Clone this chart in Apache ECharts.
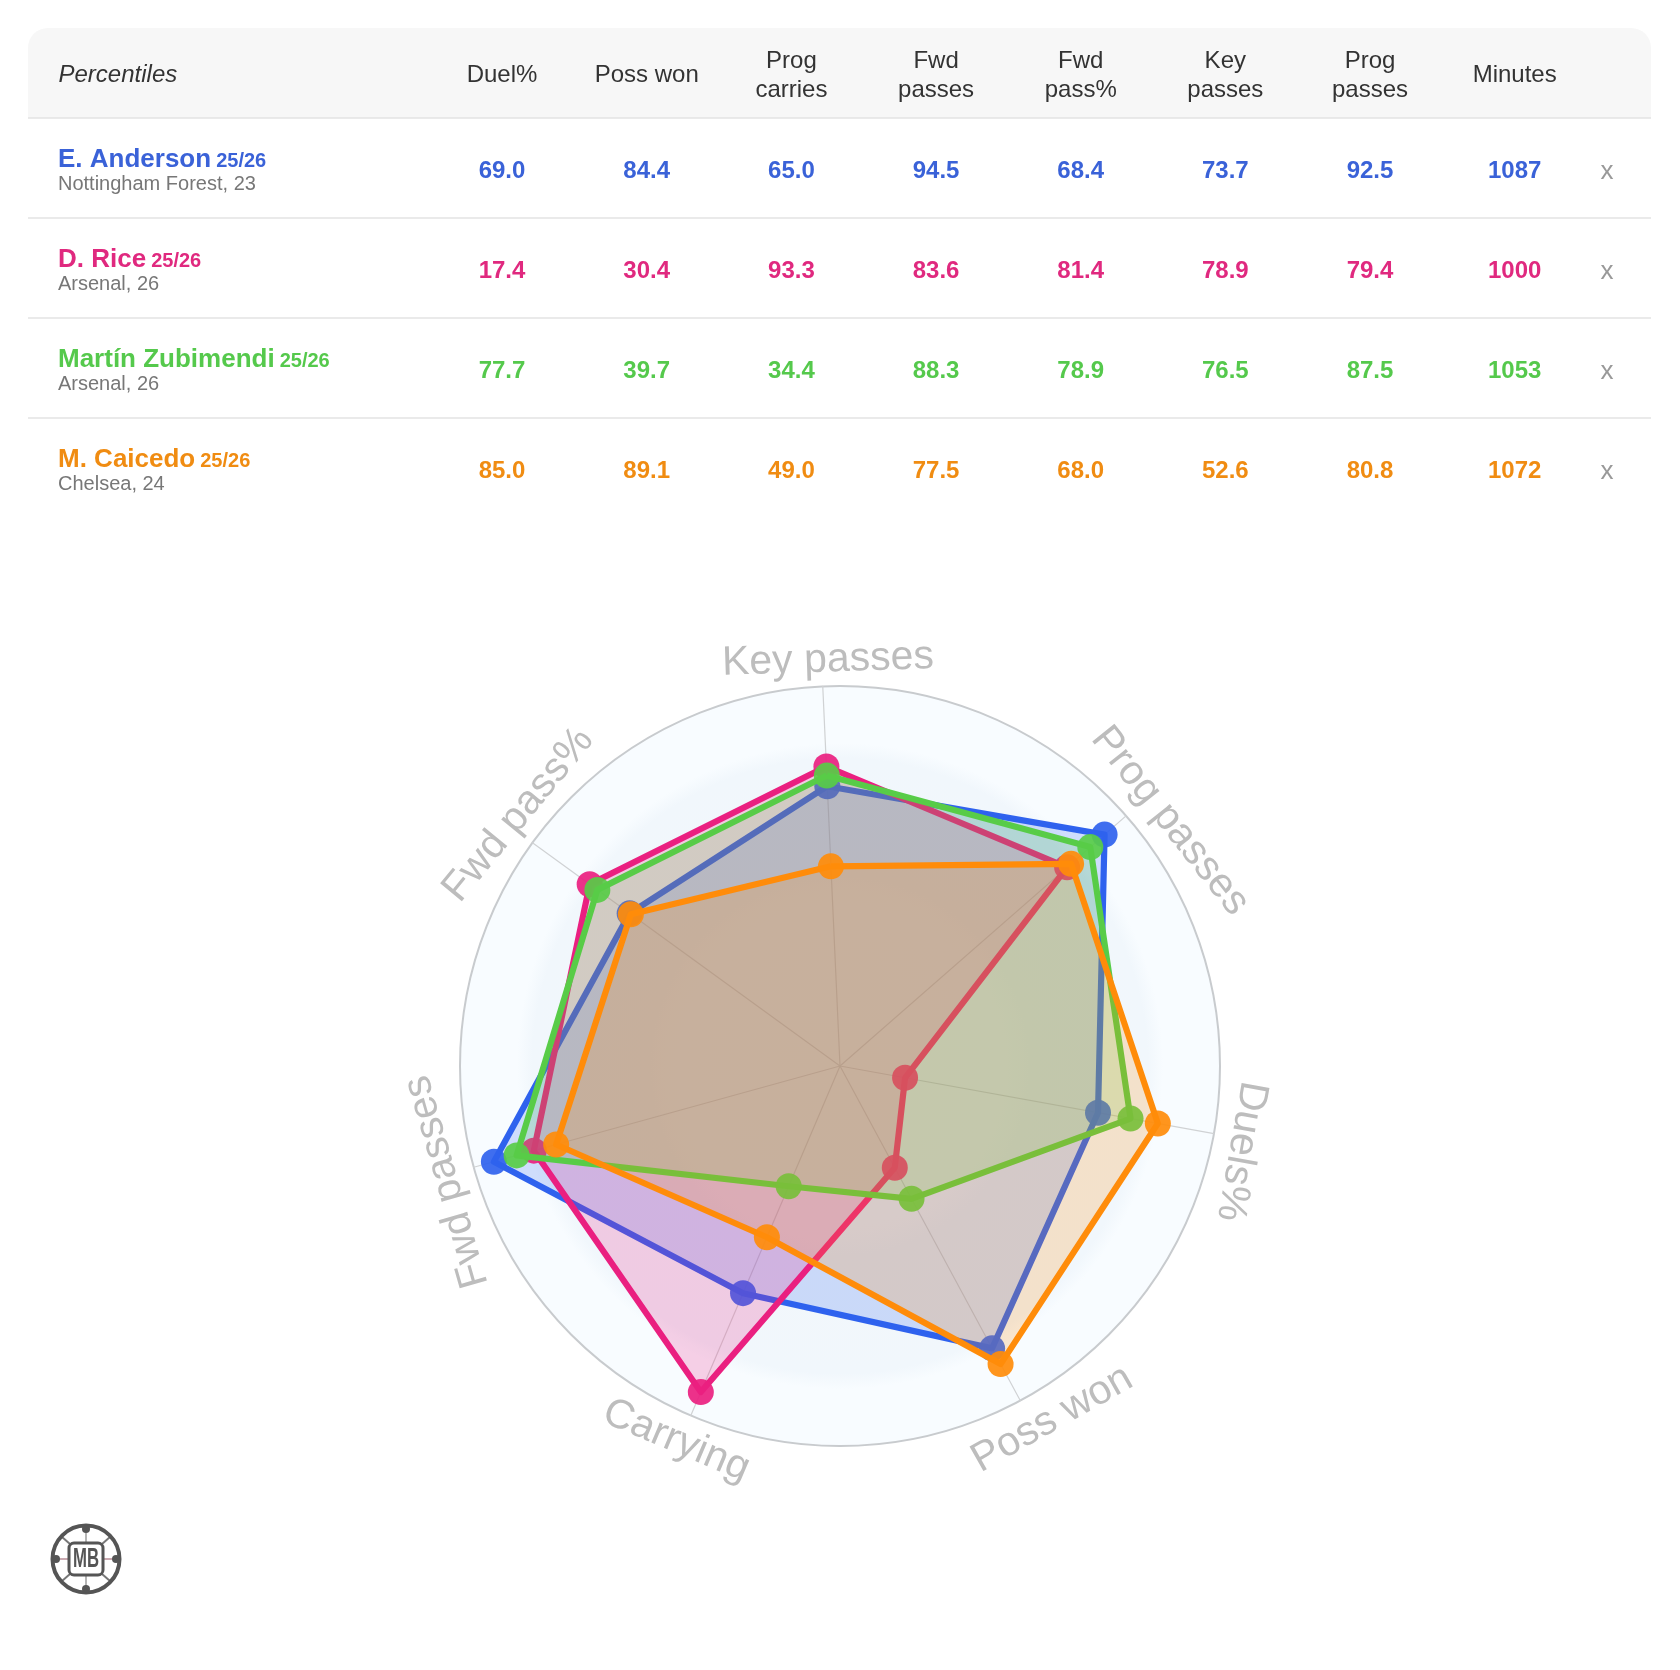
<!DOCTYPE html>
<html><head><meta charset="utf-8">
<style>html,body{margin:0;padding:0;background:#fff}#c{width:1680px;height:1670px}</style>
<script src="https://cdn.jsdelivr.net/npm/echarts@6/dist/echarts.min.js"></script>
</head><body><div id="c"></div>
<script>
const columnHeaders = [['Duel%'],['Poss won'],['Prog','carries'],['Fwd','passes'],['Fwd','pass%'],['Key','passes'],['Prog','passes'],['Minutes']];
const playerNames = ['E. Anderson','D. Rice','Martín Zubimendi','M. Caicedo'];
const playerSeasons = ['25/26','25/26','25/26','25/26'];
const playerTeams = ['Nottingham Forest, 23','Arsenal, 26','Arsenal, 26','Chelsea, 24'];
const playerColors = ['#2f62ee','#ea2080','#58cc48','#ff8c0a'];
const textColors = ['#3a62d8','#e0297f','#55c94c','#f08c12'];
// Duel%, Poss won, Prog carries, Fwd passes, Fwd pass%, Key passes, Prog passes, Minutes
const andersonRow = ['69.0','84.4','65.0','94.5','68.4','73.7','92.5','1087'];
const riceRow = ['17.4','30.4','93.3','83.6','81.4','78.9','79.4','1000'];
const zubimendiRow = ['77.7','39.7','34.4','88.3','78.9','76.5','87.5','1053'];
const caicedoRow = ['85.0','89.1','49.0','77.5','68.0','52.6','80.8','1072'];
const tableRows = [andersonRow,riceRow,zubimendiRow,caicedoRow];
// radar spokes, anticlockwise from the top
const radarNames = ['Key passes','Fwd pass%','Fwd passes','Carrying','Poss won','Duels%','Prog passes'];
const radarColumnIndex = [5,4,3,2,1,0,6];

const FONT = '"Liberation Sans", Arial, sans-serif';
const CX = 840, CY = 1066, R = 380, START = 92.6;
const colX = [502,646.7,791.4,936.1,1080.7,1225.3,1370,1514.7];
const g = [];
function T(text,x,y,size,fill,o){ o=o||{};
  g.push({type:'text',x,y,rotation:o.rotation||0,scaleX:o.scaleX||1,z:o.z||5,silent:true,
    style:{text,fill,font:(o.style||'')+' '+(o.weight||'')+' '+size+'px '+FONT,textAlign:o.align||'center',textVerticalAlign:'middle',verticalAlign:'middle'}});
}
function widthOf(text,font){const c=document.createElement('canvas').getContext('2d');c.font=font;return c.measureText(text).width;}

// table
g.push({type:'rect',z:1,silent:true,shape:{x:28,y:28,width:1623,height:90,r:[20,20,0,0]},style:{fill:'#f7f7f7'}});
[118,218,318,418].forEach(y=>g.push({type:'line',z:2,silent:true,shape:{x1:28,y1:y,x2:1651,y2:y},style:{stroke:'#e3e3e3',lineWidth:1.6}}));
T('Percentiles',58.5,75,24,'#333',{style:'italic',align:'left'});
columnHeaders.forEach((h,i)=>{
  if(h.length===1) T(h[0],colX[i],75,24,'#333');
  else {T(h[0],colX[i],61,24,'#333');T(h[1],colX[i],90,24,'#333');}
});
playerNames.forEach((n,i)=>{
  const dy=i*100, col=textColors[i];
  T(n,58,160+dy,26,col,{weight:'bold',align:'left'});
  const w=widthOf(n,'bold 26px '+FONT);
  T(playerSeasons[i],58+w+5,161+dy,20,col,{weight:'bold',align:'left'});
  T(playerTeams[i],58,184.5+dy,20,'#777',{align:'left'});
  tableRows[i].forEach((v,j)=>T(v,colX[j],171+dy,24,col,{weight:'bold'}));
  T('x',1607,172+dy,26,'#999');
});

// radar disc
g.push({type:'circle',z:-1,silent:true,shape:{cx:CX,cy:CY,r:R},style:{fill:{type:'radial',x:0.5,y:0.5,r:0.5,colorStops:[
  {offset:0,color:'#f7f9fb'},{offset:0.42,color:'#f6f9fc'},{offset:0.5,color:'#f2f7fb'},{offset:0.81,color:'#f1f7fc'},{offset:0.85,color:'#f8fcff'},{offset:1,color:'#f8fcff'}]}}});

// rotated spoke names (index follows radarNames)
const nameRotDeg = [-1.8,-50.5,-106,23,-29.5,100,51.5];
const nameCenterDeg = [-1.7,-52,-106.4,203.6,149,102,53.4];
const nameRadius = [406,408,410,409,412,410,411];
radarNames.forEach((n,i)=>{
  const a=nameCenterDeg[i]*Math.PI/180;
  T(n,CX+nameRadius[i]*Math.sin(a),CY-nameRadius[i]*Math.cos(a),41,'#bdbdbd',{rotation:-nameRotDeg[i]*Math.PI/180});
});

// logo
const LX=86,LY=1559,LC='#555';
[[0,-33,0,-16,'#b5b5b5'],[0,33,0,16,'#b5b5b5'],[-33,0,-17,0,'#c9a9b0'],[33,0,17,0,'#c9a9b0'],
 [-24,-22,-16,-15,'#777'],[24,-22,16,-15,'#777'],[-24,22,-16,15,'#777'],[24,22,16,15,'#777']]
 .forEach(l=>g.push({type:'line',z:3,silent:true,shape:{x1:LX+l[0],y1:LY+l[1],x2:LX+l[2],y2:LY+l[3]},style:{stroke:l[4],lineWidth:2}}));
g.push({type:'circle',z:3,silent:true,shape:{cx:LX,cy:LY,r:33.5},style:{fill:'none',stroke:LC,lineWidth:4}});
[[0,-30],[0,30],[-30,0],[30,0]].forEach(p=>g.push({type:'circle',z:3,silent:true,shape:{cx:LX+p[0],cy:LY+p[1],r:4},style:{fill:LC}}));
g.push({type:'rect',z:4,silent:true,shape:{x:LX-17,y:LY-16,width:34,height:32,r:5},style:{fill:'#fff',stroke:LC,lineWidth:3}});
T('MB',LX,LY+0.5,27,LC,{weight:'bold',z:6,scaleX:0.62});

const chart = echarts.init(document.getElementById('c'),null,{width:1680,height:1670});
const indicator = radarNames.map(name=>({name,min:0,max:100}));
chart.setOption({
  animation:false,
  backgroundColor:'#fff',
  graphic:{elements:g},
  radar:{center:[CX,CY],radius:R,startAngle:START,shape:'circle',splitNumber:1,indicator,
    axisName:{show:false},
    axisLine:{lineStyle:{color:'#d0d2d4',width:1.2}},
    axisTick:{show:false},axisLabel:{show:false},
    splitLine:{lineStyle:{color:'#c8cbce',width:2}},
    splitArea:{show:false}},
  series:playerNames.map((name,i)=>({
    type:'radar',name,silent:true,z:2+i,
    symbol:'circle',symbolSize:26,
    lineStyle:{color:playerColors[i],width:6.2,opacity:1},
    itemStyle:{color:playerColors[i],opacity:0.92},
    areaStyle:{color:playerColors[i],opacity:0.2},
    data:[{name,value:radarColumnIndex.map(c=>parseFloat(tableRows[i][c]))}]
  }))
});
</script></body></html>
